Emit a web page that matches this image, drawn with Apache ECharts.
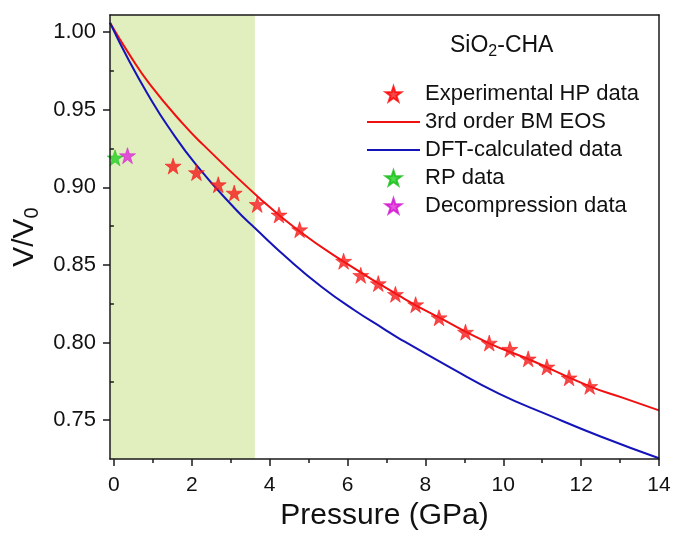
<!DOCTYPE html>
<html>
<head>
<meta charset="utf-8">
<script src="https://cdn.jsdelivr.net/npm/echarts@6/dist/echarts.min.js"></script>
<style>html,body{margin:0;padding:0;background:#fff}#c{width:674px;height:538px}</style>
</head>
<body>
<div id="c"></div>
<script>
// Experimental high-pressure data (Pressure GPa, V/V0)
var expP = [1.52, 2.12, 2.68, 3.09, 3.68, 4.24, 4.77, 5.90, 6.34, 6.79, 7.23, 7.75, 8.35, 9.03, 9.64, 10.17, 10.64, 11.12, 11.69, 12.22];
var expV = [0.9137, 0.9095, 0.9017, 0.8963, 0.8890, 0.8822, 0.8727, 0.8524, 0.8433, 0.8380, 0.8311, 0.8244, 0.8160, 0.8067, 0.7997, 0.7957, 0.7895, 0.7843, 0.7773, 0.7718];
// 3rd order BM EOS curve
var bmP = [-0.1, 0.40, 0.92, 1.77, 2.29, 3.74, 4.73, 5.88, 7.46, 8.36, 9.64, 10.64, 12.22, 13.06, 14];
var bmV = [1.006, 0.9855, 0.9665, 0.9410, 0.9275, 0.8930, 0.8723, 0.8525, 0.8282, 0.8160, 0.7995, 0.7894, 0.7718, 0.7645, 0.7563];
// DFT-calculated curve
var dftP = [-0.1, 0.40, 0.92, 1.37, 2.12, 3.15, 3.62, 4.47, 5.33, 6.18, 6.91, 7.33, 8.62, 9.90, 11.18, 12.50, 14];
var dftV = [1.006, 0.9810, 0.9579, 0.9400, 0.9143, 0.8852, 0.8738, 0.8540, 0.8360, 0.8208, 0.8092, 0.8026, 0.7842, 0.7670, 0.7531, 0.7395, 0.7255];
// RP data and decompression data
var rpP = [0.03];
var rpV = [0.919];
var decP = [0.35];
var decV = [0.9204];
// shaded pressure range
var shadeRange = [-0.1, 3.62];
// ticks
var xTicks = [0, 2, 4, 6, 8, 10, 12, 14];
var xMinor = [1, 3, 5, 7, 9, 11, 13];
var yTicks = [0.75, 0.80, 0.85, 0.90, 0.95, 1.00];
var yMinor = [0.775, 0.825, 0.875, 0.925, 0.975];
var seriesNames = ['Experimental HP data', '3rd order BM EOS', 'DFT-calculated data', 'RP data', 'Decompression data'];

function pairs(a, b) { return a.map(function (v, i) { return [v, b[i]]; }); }

var FONT = '"Liberation Sans", Arial, Helvetica, sans-serif';
var AX = '#1a1a1a';
var STAR = 'path://M50,2 L61.8,38.2 L99,38.2 L69,60.6 L80.3,96.8 L50,74.4 L19.7,96.8 L31,60.6 L1,38.2 L38.2,38.2 Z';
var LINEICON = 'path://M0,0 L100,0 L100,3.8 L0,3.8 Z';
var xMin = -0.1, xMax = 14, yMin = 0.725, yMax = 1.011;

var chart = echarts.init(document.getElementById('c'), null, {renderer: 'canvas'});
var option = {
  animation: false,
  backgroundColor: '#fff',
  textStyle: {fontFamily: FONT},
  grid: {left: 110, right: 15, top: 15, bottom: 79, containLabel: false},
  title: {
    left: 450, top: 32, padding: 0,
    text: '{a|SiO}{b|2}{a|-CHA}',
    textStyle: {
      fontWeight: 'normal',
      rich: {
        a: {fontSize: 23, fontFamily: FONT, fontWeight: 'normal', color: '#111'},
        b: {fontSize: 16, fontFamily: FONT, fontWeight: 'normal', color: '#111', padding: [12, 0, 0, 0]}
      }
    }
  },
  legend: {
    orient: 'vertical', left: 367, top: 83, padding: 0,
    itemWidth: 53, itemHeight: 15, itemGap: 6,
    data: [
      {name: seriesNames[0]},
      {name: seriesNames[1], icon: LINEICON},
      {name: seriesNames[2], icon: LINEICON},
      {name: seriesNames[3]},
      {name: seriesNames[4]}
    ],
    textStyle: {fontSize: 22, fontFamily: FONT, color: '#111'}
  },
  xAxis: [
    {
      type: 'value', position: 'bottom', min: xMin, max: xMax, z: 10,
      name: 'Pressure (GPa)', nameLocation: 'middle', nameGap: 40,
      nameTextStyle: {fontSize: 30, fontFamily: FONT, color: '#111'},
      axisLine: {show: true, onZero: false, lineStyle: {color: AX, width: 1.5}},
      axisTick: {show: true, customValues: xTicks, length: 7, lineStyle: {color: AX, width: 1.5}},
      axisLabel: {customValues: xTicks, fontSize: 21, fontFamily: FONT, color: '#111', margin: 16},
      splitLine: {show: false}
    },
    {
      type: 'value', position: 'bottom', min: xMin, max: xMax, z: 10,
      axisLine: {show: false},
      axisTick: {show: true, customValues: xMinor, length: 4, lineStyle: {color: AX, width: 1.5}},
      axisLabel: {show: false}, splitLine: {show: false}
    },
    {
      type: 'value', position: 'top', min: xMin, max: xMax, z: 10,
      axisLine: {show: true, onZero: false, lineStyle: {color: AX, width: 1.5}},
      axisTick: {show: false}, axisLabel: {show: false}, splitLine: {show: false}
    }
  ],
  yAxis: [
    {
      type: 'value', position: 'left', min: yMin, max: yMax, z: 10,
      name: '{a|V/V}{b|0}', nameLocation: 'middle', nameGap: 60, nameRotate: 90,
      nameTextStyle: {
        rich: {
          a: {fontSize: 30, fontFamily: FONT, color: '#111'},
          b: {fontSize: 20, fontFamily: FONT, color: '#111', padding: [16, 0, 0, 0]}
        }
      },
      axisLine: {show: true, onZero: false, lineStyle: {color: AX, width: 1.5}},
      axisTick: {show: true, customValues: yTicks, length: 7, lineStyle: {color: AX, width: 1.5}},
      axisLabel: {customValues: yTicks, fontSize: 22, fontFamily: FONT, color: '#111', margin: 14,
        formatter: function (v) { return v.toFixed(2); }},
      splitLine: {show: false}
    },
    {
      type: 'value', position: 'left', min: yMin, max: yMax, z: 10,
      axisLine: {show: false},
      axisTick: {show: true, customValues: yMinor, length: 4, lineStyle: {color: AX, width: 1.5}},
      axisLabel: {show: false}, splitLine: {show: false}
    },
    {
      type: 'value', position: 'right', min: yMin, max: yMax, z: 10,
      axisLine: {show: true, onZero: false, lineStyle: {color: AX, width: 1.5}},
      axisTick: {show: false}, axisLabel: {show: false}, splitLine: {show: false}
    }
  ],
  series: [
    {
      name: seriesNames[0], type: 'scatter', symbol: STAR, symbolSize: 16, z: 5,
      itemStyle: {color: '#f21a1a', borderColor: '#ff0000', borderWidth: 0.6},
      data: pairs(expP, expV),
      markArea: {
        silent: true,
        itemStyle: {color: '#e1eebe'},
        data: [[{xAxis: shadeRange[0]}, {xAxis: shadeRange[1]}]]
      }
    },
    {
      name: seriesNames[1], type: 'line', smooth: 0.5, symbol: 'none', z: 4,
      lineStyle: {color: '#f01010', width: 2},
      itemStyle: {color: '#f01010'},
      data: pairs(bmP, bmV)
    },
    {
      name: seriesNames[2], type: 'line', smooth: 0.5, symbol: 'none', z: 4,
      lineStyle: {color: '#1414b8', width: 2},
      itemStyle: {color: '#1414b8'},
      data: pairs(dftP, dftV)
    },
    {
      name: seriesNames[3], type: 'scatter', symbol: STAR, symbolSize: 16, z: 5,
      itemStyle: {color: '#22d022', borderColor: '#11bb11', borderWidth: 0.6},
      data: pairs(rpP, rpV)
    },
    {
      name: seriesNames[4], type: 'scatter', symbol: STAR, symbolSize: 16, z: 5,
      itemStyle: {color: '#e028d8', borderColor: '#d010d0', borderWidth: 0.6},
      data: pairs(decP, decV)
    }
  ]
};
chart.setOption(option);
</script>
</body>
</html>
